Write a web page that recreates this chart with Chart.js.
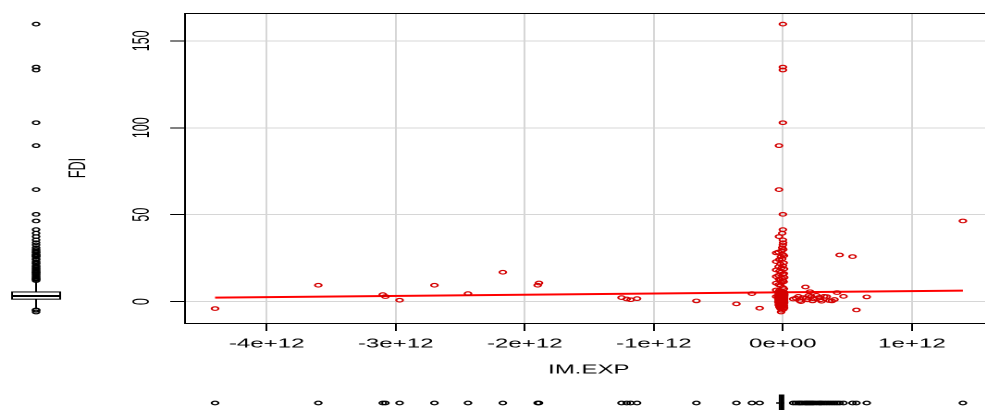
<!DOCTYPE html>
<html>
<head>
<meta charset="utf-8">
<script src="https://cdn.jsdelivr.net/npm/chart.js@4.4.1/dist/chart.umd.min.js"></script>
<style>
  html, body { margin: 0; padding: 0; background: #fff; }
  #frame { position: relative; width: 985px; height: 410px; overflow: hidden; }
  /* the reference picture is stretched sideways, so the whole chart is drawn narrow and scaled */
  #wrap { position: absolute; left: 0; top: 0; width: 537px; height: 410px; transform: scaleX(1.85); transform-origin: 0 0; }
</style>
</head>
<body>
<div id="frame"><div id="wrap"><canvas id="fdiChart" width="537" height="410"></canvas></div></div>
<script>
// IM.EXP / FDI observations far from zero
const farPoints = [
  [-4.40e12, -4.0], [-3.60e12, 9.4], [-3.10e12, 4.0], [-3.08e12, 2.9], [-2.97e12, 0.8],
  [-2.70e12, 9.4], [-2.44e12, 4.6], [-2.17e12, 16.9], [-1.89e12, 10.7], [-1.90e12, 9.4],
  [-1.25e12, 2.3], [-1.21e12, 1.5], [-1.18e12, 1.1], [-1.13e12, 1.7], [-0.67e12, 0.4],
  [-0.36e12, -1.3], [-0.24e12, 4.6], [-0.18e12, -3.8], [0.44e12, 26.8], [0.54e12, 25.9],
  [0.57e12, -4.8], [0.65e12, 2.7], [1.395e12, 46.4]
];

// small positive IM.EXP cluster just right of zero
const nearPoints = [
  [0.08e12, 1.5], [0.10e12, 2.0], [0.12e12, 3.0], [0.13e12, 0.6], [0.14e12, 0.0],
  [0.155e12, 2.3], [0.175e12, 8.4], [0.18e12, 2.0], [0.19e12, 1.0], [0.20e12, 3.5],
  [0.21e12, 5.7], [0.22e12, 2.9], [0.23e12, 0.4], [0.24e12, 1.6], [0.26e12, 3.6],
  [0.28e12, 2.4], [0.29e12, 1.0], [0.30e12, 0.2], [0.32e12, 3.0], [0.34e12, 2.9],
  [0.36e12, 0.6], [0.38e12, 0.4], [0.40e12, 1.2], [0.42e12, 5.2], [0.47e12, 3.0]
];

// the dense column at IM.EXP ~ 0
const zeroPoints = [
  [0, 159.6], [0, 134.9], [0, 133.2], [0, 102.9], [-0.03e12, 89.7], [-0.03e12, 64.4], [0, 50.2], [0, 41.4],
  [-0.005e12, 39.3], [-0.03e12, 37.4], [0, 35.5], [0.002e12, 33.9], [0, 32.6], [-0.005e12, 31.0], [0.003e12, 30.0],
  [-0.01e12, 29.2], [-0.052e12, 28.0], [0, 27.1], [-0.015e12, 25.8], [-0.005e12, 24.6], [-0.052e12, 23.0],
  [-0.02e12, 21.7], [0, 20.6], [-0.01e12, 19.4], [-0.052e12, 18.2], [-0.015e12, 16.9], [0.002e12, 15.7],
  [-0.052e12, 14.4], [-0.005e12, 13.3], [-0.02e12, 12.7], [0, 12.1],
  [-0.01e12, 10.9], [-0.052e12, 10.6], [-0.02e12, 9.2], [0, 8.1], [-0.052e12, 6.7], [-0.015e12, 6.1],
  [-0.012e12, 5.5], [0, 5.3], [-0.02e12, 5.4], [-0.006e12, 5.1], [0.004e12, 4.9], [-0.018e12, 5.0],
  [-0.01e12, 4.7], [-0.024e12, 4.8], [0, 4.6], [-0.014e12, 4.4], [-0.004e12, 4.5], [-0.022e12, 4.2],
  [-0.008e12, 4.3], [0.002e12, 4.0], [-0.016e12, 4.1], [-0.026e12, 3.9], [-0.002e12, 3.8], [-0.012e12, 3.6],
  [-0.02e12, 3.7], [0.005e12, 3.5], [-0.008e12, 3.4], [-0.018e12, 3.2], [0, 3.3], [-0.024e12, 3.1],
  [-0.006e12, 3.0], [-0.014e12, 2.9], [0.003e12, 2.8], [-0.052e12, 2.9], [-0.022e12, 2.7], [-0.01e12, 2.6],
  [0, 2.5], [-0.016e12, 2.4], [-0.004e12, 2.3], [-0.02e12, 2.2], [-0.012e12, 2.1], [0.001e12, 2.0],
  [-0.008e12, 1.9], [-0.018e12, 1.8], [-0.002e12, 1.7], [-0.024e12, 1.6], [-0.01e12, 1.5], [0.004e12, 1.45],
  [-0.014e12, 5.2], [-0.006e12, 4.75], [-0.02e12, 4.35], [0, 3.95], [-0.012e12, 3.55], [-0.016e12, 3.15],
  [-0.004e12, 2.75], [-0.022e12, 2.35], [0.002e12, 1.95], [-0.008e12, 1.55], [-0.018e12, 5.35], [-0.002e12, 4.55],
  [-0.01e12, 3.75], [-0.026e12, 2.95], [0, 2.15], [-0.014e12, 1.65], [-0.006e12, 5.05], [-0.02e12, 4.15],
  [0.005e12, 3.35], [-0.012e12, 2.55], [-0.016e12, 1.75], [-0.004e12, 4.9], [-0.022e12, 3.85], [-0.008e12, 2.85],
  [0.001e12, 1.85], [-0.018e12, 4.45], [-0.01e12, 3.45], [-0.002e12, 2.45], [-0.024e12, 3.05], [-0.014e12, 4.05],
  [-0.01e12, 1.3], [0, 1.2], [-0.02e12, 1.1], [-0.006e12, 1.0], [-0.014e12, 0.9], [0.003e12, 0.8],
  [-0.022e12, 0.7], [-0.008e12, 0.6], [-0.016e12, 0.5], [-0.002e12, 0.4], [-0.012e12, 0.3], [-0.024e12, 0.2],
  [0, 0.1], [-0.018e12, 0.0], [-0.004e12, -0.1], [-0.01e12, -0.3], [-0.02e12, -0.5], [0.002e12, -0.7],
  [-0.014e12, -0.9], [-0.006e12, -1.1], [-0.022e12, -1.4], [-0.01e12, -1.7], [0, -2.0], [-0.016e12, -2.3],
  [-0.026e12, -2.6], [-0.004e12, -3.0], [-0.012e12, -3.4], [-0.02e12, -3.9], [0.004e12, -4.4], [-0.008e12, -5.0],
  [-0.014e12, -6.0]
];

// edges of the zero column (the wider part of the red block)
const zeroEdgePoints = [
  [-0.035e12, 28.5], [0.008e12, 26.4], [-0.028e12, 24.1], [0.006e12, 22.3], [-0.033e12, 20.1], [0.009e12, 18.8],
  [-0.026e12, 17.6], [0.007e12, 16.2], [-0.034e12, 15.1], [0.01e12, 13.9], [-0.03e12, 12.9], [0.006e12, 11.4],
  [-0.032e12, 9.8], [0.008e12, 7.4], [-0.027e12, 6.4],
  [-0.034e12, 5.45], [0.009e12, 5.25], [-0.029e12, 4.95], [0.007e12, 4.65], [-0.031e12, 4.25], [0.01e12, 3.95],
  [-0.027e12, 3.65], [0.006e12, 3.25], [-0.035e12, 2.95], [0.008e12, 2.65], [-0.03e12, 2.25], [0.009e12, 1.95],
  [-0.033e12, 1.6], [0.007e12, 5.15], [-0.028e12, 4.85], [0.01e12, 4.4], [-0.032e12, 3.85], [0.006e12, 3.5],
  [-0.026e12, 3.1], [0.008e12, 2.7], [-0.034e12, 2.4], [0.009e12, 2.05], [-0.03e12, 1.7], [0.007e12, 5.5],
  [-0.029e12, 4.6], [0.01e12, 3.3], [-0.031e12, 2.5], [0.006e12, 1.8], [-0.027e12, 4.3], [0.008e12, 3.8],
  [-0.033e12, 1.25], [0.009e12, 0.95], [-0.028e12, 0.55], [0.007e12, 0.15], [-0.035e12, -0.25], [0.01e12, -0.65],
  [-0.03e12, -1.05], [0.006e12, -1.5], [-0.032e12, -1.95], [0.008e12, -2.5], [-0.026e12, -3.1], [0.009e12, -3.6],
  [-0.034e12, 1.05], [0.007e12, 0.35], [-0.029e12, -0.45]
];

// regression line (ends of the data range)
const fitImExp = [-4.40e12, 1.395e12];
const fitFdi = [2.3, 6.3];

const xTickValues = [-4e12, -3e12, -2e12, -1e12, 0, 1e12];
const xTickLabels = ['-4e+12', '-3e+12', '-2e+12', '-1e+12', '0e+00', '1e+12'];
const yTickValues = [0, 50, 100, 150];
const yTickLabels = ['0', '50', '100', '150'];

const allPoints = farPoints.concat(nearPoints, zeroPoints, zeroEdgePoints);
const imExp = allPoints.map(p => p[0]);
const fdi = allPoints.map(p => p[1]);

function quantile(sorted, p) {
  const h = (sorted.length - 1) * p;
  const lo = Math.floor(h);
  const hi = Math.min(lo + 1, sorted.length - 1);
  return sorted[lo] + (h - lo) * (sorted[hi] - sorted[lo]);
}

function boxStats(values) {
  const s = values.slice().sort((a, b) => a - b);
  const q1 = quantile(s, 0.25), med = quantile(s, 0.5), q3 = quantile(s, 0.75);
  const iqr = q3 - q1;
  const loF = q1 - 1.5 * iqr, hiF = q3 + 1.5 * iqr;
  const inside = s.filter(v => v >= loF && v <= hiF);
  return {
    q1, med, q3,
    lo: inside[0], hi: inside[inside.length - 1],
    out: s.filter(v => v < loF || v > hiF)
  };
}

const fdiBox = boxStats(fdi);
const expBox = boxStats(imExp);

function ring(ctx, px, py, r) {
  ctx.beginPath();
  ctx.arc(px, py, r, 0, Math.PI * 2);
  ctx.stroke();
}

// marginal boxplots (left: FDI, bottom: IM.EXP) drawn with the chart scales
const marginBoxes = {
  id: 'marginBoxes',
  afterDraw(chart) {
    const { ctx, chartArea: a, scales: { x, y } } = chart;
    ctx.save();
    ctx.strokeStyle = '#000';
    ctx.lineWidth = 1;
    ctx.strokeRect(a.left + 0.5, a.top + 0.5, a.right - a.left, a.bottom - a.top);

    // left boxplot
    const cx = 19.5, hw = 13;
    ctx.beginPath();
    ctx.moveTo(cx, y.getPixelForValue(fdiBox.q3));
    ctx.lineTo(cx, y.getPixelForValue(fdiBox.hi));
    ctx.moveTo(cx, y.getPixelForValue(fdiBox.q1));
    ctx.lineTo(cx, y.getPixelForValue(fdiBox.lo));
    ctx.stroke();
    const top = y.getPixelForValue(fdiBox.q3), bot = y.getPixelForValue(fdiBox.q1);
    ctx.fillStyle = '#fff';
    ctx.fillRect(cx - hw, top, hw * 2, bot - top);
    ctx.strokeRect(cx - hw, top, hw * 2, bot - top);
    ctx.lineWidth = 2;
    ctx.beginPath();
    ctx.moveTo(cx - hw, y.getPixelForValue(fdiBox.med));
    ctx.lineTo(cx + hw, y.getPixelForValue(fdiBox.med));
    ctx.stroke();
    ctx.lineWidth = 1.1;
    fdiBox.out.forEach(v => ring(ctx, cx, y.getPixelForValue(v), 1.8));

    // bottom boxplot
    const cy = 403, hh = 8;
    ctx.lineWidth = 1.5;
    ctx.beginPath();
    ctx.moveTo(x.getPixelForValue(expBox.lo), cy);
    ctx.lineTo(x.getPixelForValue(expBox.q1), cy);
    ctx.moveTo(x.getPixelForValue(expBox.q3), cy);
    ctx.lineTo(x.getPixelForValue(expBox.hi), cy);
    ctx.stroke();
    const l = x.getPixelForValue(expBox.q1), r = x.getPixelForValue(expBox.q3);
    ctx.lineWidth = 1;
    ctx.strokeRect(l, cy - hh, r - l, hh * 2);
    ctx.lineWidth = 1.5;
    ctx.beginPath();
    ctx.moveTo(x.getPixelForValue(expBox.med), cy - hh);
    ctx.lineTo(x.getPixelForValue(expBox.med), cy + hh);
    ctx.stroke();
    ctx.lineWidth = 1.1;
    expBox.out.forEach(v => ring(ctx, x.getPixelForValue(v), cy, 1.8));
    ctx.restore();
  }
};

Chart.defaults.font.family = "'Liberation Sans', Arial, sans-serif";
Chart.defaults.color = '#000';

const ctx = document.getElementById('fdiChart').getContext('2d');
const fdiChart = new Chart(ctx, {
  type: 'scatter',
  data: {
    datasets: [{
      label: 'FDI',
      data: allPoints.map(p => ({ x: p[0], y: p[1] })),
      pointStyle: 'circle',
      pointRadius: 1.8,
      pointBorderWidth: 1.1,
      pointBorderColor: '#d40000',
      pointBackgroundColor: 'rgba(0,0,0,0)'
    }, {
      label: 'fit',
      data: fitImExp.map((v, i) => ({ x: v, y: fitFdi[i] })),
      showLine: true,
      borderColor: '#ff0000',
      borderWidth: 2,
      pointRadius: 0
    }]
  },
  options: {
    responsive: false,
    animation: false,
    devicePixelRatio: 2,
    layout: { autoPadding: false, padding: { top: 13, left: 0, right: 0, bottom: 0 } },
    plugins: { legend: { display: false }, tooltip: { enabled: false } },
    scales: {
      x: {
        type: 'linear',
        min: -4.64e12,
        max: 1.632e12,
        afterBuildTicks: s => { s.ticks = xTickValues.map(v => ({ value: v })); },
        afterFit: s => { s.height = 87; s.paddingLeft = 0; s.paddingRight = 0; },
        ticks: {
          autoSkip: false,
          maxRotation: 0,
          padding: 5,
          font: { size: 13 },
          callback: v => xTickLabels[xTickValues.indexOf(v)]
        },
        grid: { color: '#d6d6d6', tickColor: '#000', tickLength: 8 },
        border: { display: false },
        title: { display: true, text: 'IM.EXP', font: { size: 13 }, padding: { top: 0, bottom: 32.5 } }
      },
      y: {
        type: 'linear',
        min: -12.3,
        max: 166,
        afterBuildTicks: s => { s.ticks = yTickValues.map(v => ({ value: v })); },
        afterFit: s => { s.width = 99.5; s.paddingTop = 0; s.paddingBottom = 0; },
        ticks: {
          autoSkip: false,
          minRotation: 90,
          maxRotation: 90,
          crossAlign: 'center',
          padding: 4.3,
          font: { size: 12.5 },
          callback: v => yTickLabels[yTickValues.indexOf(v)]
        },
        grid: { color: '#d6d6d6', tickColor: '#000', tickLength: 7.5 },
        border: { display: false },
        title: { display: true, text: 'FDI', font: { size: 12.5 }, padding: { top: 35.2, bottom: 0 } }
      }
    }
  },
  plugins: [marginBoxes]
});
</script>
</body>
</html>
